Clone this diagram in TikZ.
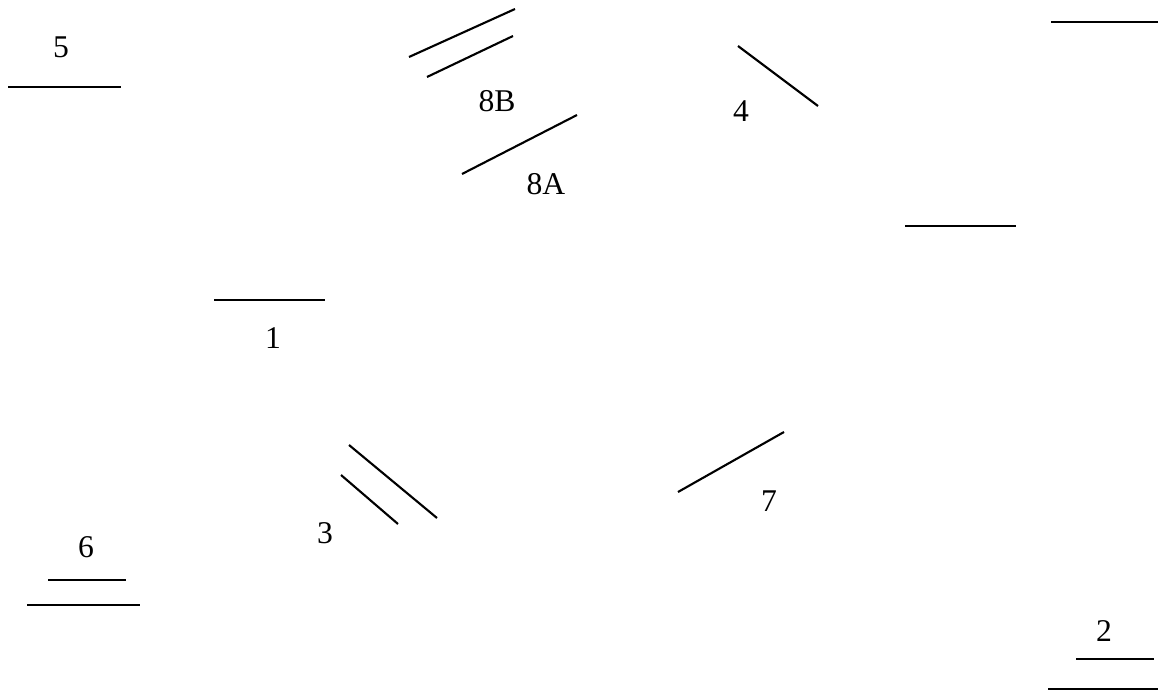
\documentclass[tikz,border=0pt]{standalone}
\usepackage{fontspec}
\setmainfont{Liberation Serif}
\usepackage{tikz}

\begin{document}
\begin{tikzpicture}[x=0.025cm, y=-0.025cm, line width=1.5pt,
    lbl/.style={font=\fontsize{22.5}{27}\selectfont, inner sep=0pt}]
    \useasboundingbox (0,0) rectangle (1160,696);
    % 5
    \node[lbl] (l5) at (61,47) {5};
    \draw (8,87) -- (121,87);
    % 8B
    \draw (409,57) -- (515,9);
    \draw (427,77) -- (513,36);
    \node[lbl] (l8b) at (497,101) {8B};
    % 8A
    \draw (462,174) -- (577,115);
    \node[lbl] (l8a) at (546,184) {8A};
    % 4
    \draw (738,46) -- (818,106);
    \node[lbl] (l4) at (741,111) {4};
    % Unlabelled
    \draw (1051,22) -- (1158,22);
    \draw (905,226) -- (1016,226);
    % 1
    \draw (214,300) -- (325,300);
    \node[lbl] (l1) at (273,338) {1};
    % 3
    \draw (349,445) -- (437,518);
    \draw (341,475) -- (398,524);
    \node[lbl] (l3) at (325,533) {3};
    % 7
    \draw (678,492) -- (784,432);
    \node[lbl] (l7) at (769,501) {7};
    % 6
    \node[lbl] (l6) at (86,547) {6};
    \draw (48,580) -- (126,580);
    \draw (27,605) -- (140,605);
    % 2
    \node[lbl] (l2) at (1104,631) {2};
    \draw (1076,659) -- (1154,659);
    \draw (1048,689) -- (1158,689);
\end{tikzpicture}
\end{document}
